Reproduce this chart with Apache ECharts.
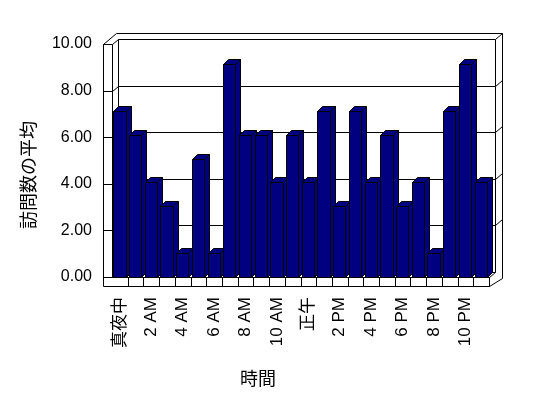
<!DOCTYPE html>
<html><head><meta charset="utf-8">
<script src="https://cdn.jsdelivr.net/npm/echarts/dist/echarts.min.js"></script>
<style>html,body{margin:0;padding:0;background:#fff}#c{width:548px;height:398px}</style>
</head><body><div id="c"></div>
<script>
const hours = ['真夜中','1 AM','2 AM','3 AM','4 AM','5 AM','6 AM','7 AM','8 AM','9 AM','10 AM','11 AM',
               '正午','1 PM','2 PM','3 PM','4 PM','5 PM','6 PM','7 PM','8 PM','9 PM','10 PM','11 PM'];
const avgVisits = [7,6,4,3,1,5,1,9,6,6,4,6,4,7,3,7,4,6,3,4,1,7,9,4];
const yTicks = [0,2,4,6,8,10];
const yAxisTitle = '訪問数の平均';
const xAxisTitle = '時間';

const FONT = '"Liberation Sans", "Noto Sans CJK JP", sans-serif';
const P = v => Math.round(v) + 0.5;
const yMax = yTicks[yTicks.length - 1];

function renderFrame(params, api) {
  const L = api.coord([0, 0])[0], R = api.coord([1, 0])[0];
  const Y = v => api.coord([0, v])[1];
  const y0 = Y(0), yT = Y(yMax);
  const T = 9, ix = 6, iy = -5, ox = 13, oy = -11;
  const ch = [];
  const seg = pts => ch.push({type: 'polyline', shape: {points: pts.map(p => [P(p[0]), P(p[1])])},
    style: {stroke: '#000', lineWidth: 1, fill: null}});
  seg([[L, y0 + T], [L, yT], [L + ox, yT + oy], [R + ox, yT + oy], [R + ox, y0 + 1], [R, y0 + T], [L, y0 + T]]);
  seg([[L + T, yT], [L + T, y0]]);
  seg([[L + T + ix, yT + iy], [L + T + ix, y0 + iy]]);
  seg([[R + ix, yT + iy], [R + ix, y0 + iy]]);
  yTicks.forEach(v => {
    const y = Y(v);
    if (v === 0) { seg([[L, y], [L + T, y]]); return; }
    seg([[L, y], [L + T, y], [L + T + ix, y + iy], [R + ix, y + iy], [R + ox, y + oy]]);
  });
  seg([[L + T, y0], [R, y0], [R + ix, y0 + iy]]);
  seg([[L + T + ix, y0 + iy], [R + ix, y0 + iy]]);
  seg([[R, y0], [R, y0 + T]]);
  return {type: 'group', children: ch};
}

function renderBar(params, api) {
  const i = api.value(0), v = api.value(1);
  const c = api.coord([i, v]), b = api.coord([i, 0]);
  const bw = api.size([1, 0])[0];
  const fl = P(c[0] - bw * 0.42), fr = P(c[0] + bw * 0.36);
  const yt = P(c[1]), yb = P(b[1]);
  const dx = Math.round(bw * 0.34), dy = -5;
  const bnd = P(c[0] + bw / 2);
  const st = {fill: '#000080', stroke: '#000', lineWidth: 1};
  return {type: 'group', children: [
    {type: 'line', shape: {x1: bnd, y1: yb, x2: bnd, y2: yb + 9}, style: {stroke: '#000', lineWidth: 1}},
    {type: 'polygon', shape: {points: [[fr, yt], [fr + dx, yt + dy], [fr + dx, yb + dy], [fr, yb]]}, style: st},
    {type: 'polygon', shape: {points: [[fl, yt], [fl + dx, yt + dy], [fr + dx, yt + dy], [fr, yt]]}, style: st},
    {type: 'rect', shape: {x: fl, y: yt, width: fr - fl, height: yb - yt}, style: st}
  ]};
}

const chart = echarts.init(document.getElementById('c'), null, {renderer: 'canvas'});
chart.setOption({
  backgroundColor: '#fff',
  animation: false,
  grid: [
    {left: 112, right: 59, top: 40, bottom: 121},
    {left: 103, right: 59, top: 44, bottom: 121}
  ],
  xAxis: [
    {type: 'category', gridIndex: 0, data: hours, boundaryGap: true,
     axisLine: {show: false}, axisTick: {show: false},
     axisLabel: {interval: 1, rotate: 90, margin: 20, fontSize: 17, fontFamily: FONT, color: '#000'}},
    {type: 'value', gridIndex: 1, min: 0, max: 1, show: false}
  ],
  yAxis: [
    {type: 'value', gridIndex: 0, min: 0, max: yMax, show: false},
    {type: 'value', gridIndex: 1, min: 0, max: yMax, interval: 2,
     axisLine: {show: false}, axisTick: {show: false}, splitLine: {show: false},
     axisLabel: {margin: 11, fontSize: 16, fontFamily: FONT, color: '#000', formatter: v => v.toFixed(2)}}
  ],
  series: [
    {type: 'custom', xAxisIndex: 1, yAxisIndex: 1, data: [[0, 0]], renderItem: renderFrame, z: 1, silent: true, clip: false},
    {type: 'custom', xAxisIndex: 0, yAxisIndex: 0, data: avgVisits.map((v, i) => [i, v]),
     encode: {x: 0, y: 1}, renderItem: renderBar, z: 2, clip: false}
  ],
  graphic: [
    {type: 'text', x: 28, y: 175, rotation: Math.PI / 2,
     style: {text: yAxisTitle, font: '18px "Noto Sans CJK JP"', align: 'center', verticalAlign: 'middle', fill: '#000'}},
    {type: 'text', x: 258, y: 378,
     style: {text: xAxisTitle, font: '18px "Noto Sans CJK JP"', align: 'center', verticalAlign: 'middle', fill: '#000'}}
  ]
});
</script></body></html>
